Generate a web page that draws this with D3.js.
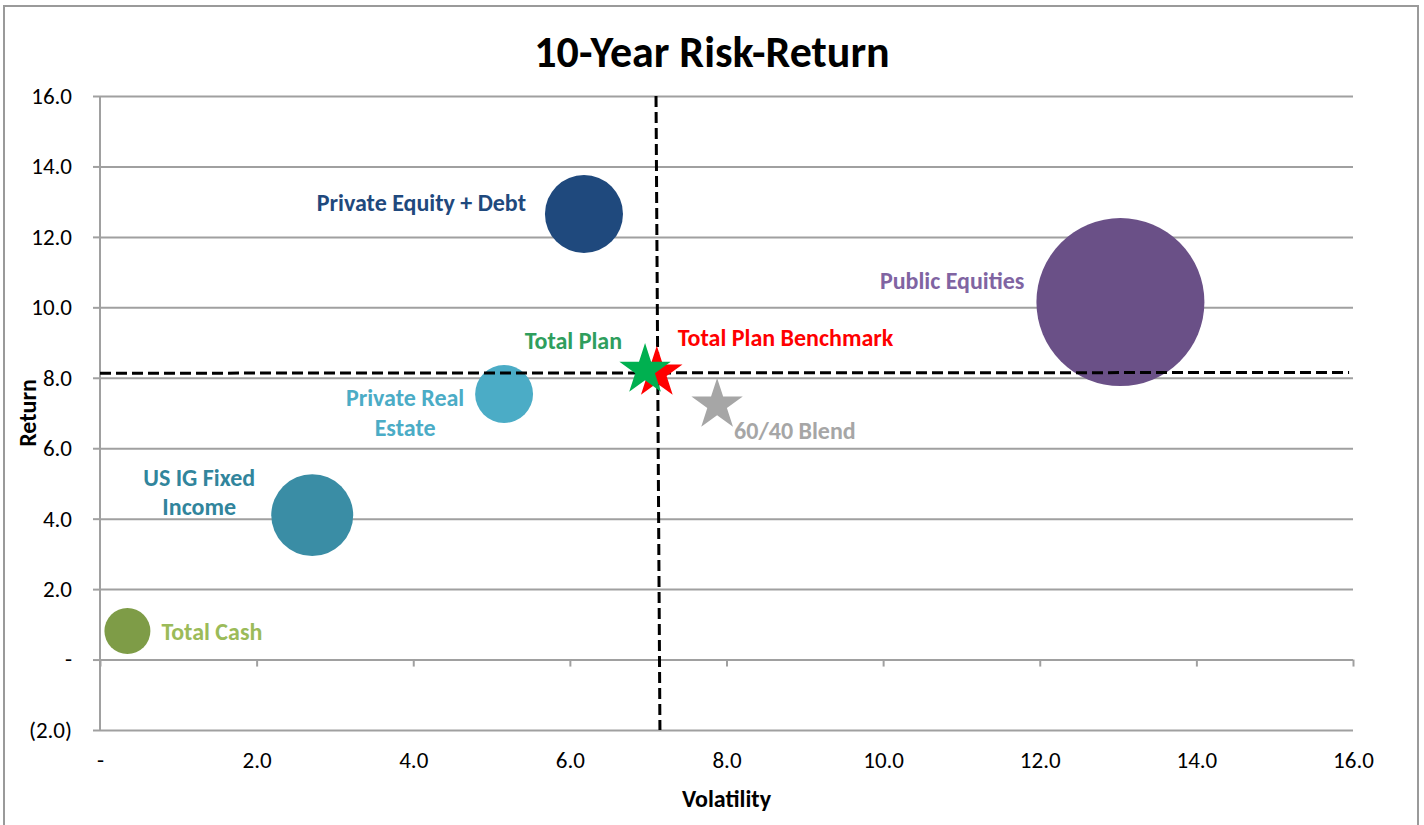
<!DOCTYPE html>
<html>
<head>
<meta charset="utf-8">
<script src="https://cdn.jsdelivr.net/npm/d3@7"></script>
<style>
  body { margin: 0; background: #fff; }
  svg text { font-family: Carlito, Lato, "Liberation Sans", sans-serif; }
</style>
</head>
<body>
<svg id="chart" width="1424" height="825"></svg>
<script>
// Asset class bubbles: volatility (x), return (y), weight drives the bubble area
const assetNames = ['Total Cash', 'US IG Fixed Income', 'Private Real Estate', 'Private Equity + Debt', 'Public Equities'];
const assetVolatility = [0.35, 2.71, 5.16, 6.18, 13.03];
const assetReturn = [0.81, 4.10, 7.54, 12.65, 10.15];
const assetWeight = [3.4, 10.8, 5.4, 9.8, 45.4];

// Portfolio level stars
const planNames = ['Total Plan', 'Total Plan Benchmark', '60/40 Blend'];
const planVolatility = [6.96, 7.11, 7.88];
const planReturn = [8.22, 8.14, 7.23];

// Benchmark cross-hair (dashed lines)
const benchVolLine = [[7.10, 16.0], [7.15, -2.0]];
const benchRetLine = [[0.0, 8.13], [15.95, 8.15]];

// Axis ticks
const xTicks = [0, 2, 4, 6, 8, 10, 12, 14, 16];
const yTicks = [-2, 0, 2, 4, 6, 8, 10, 12, 14, 16];

// colours and label layout (offsets from the mark, in px)
const assetColors = ['#7e9c47', '#3a8da5', '#4bacc6', '#1f497d', '#6a5087'];
const assetLabelColors = ['#9bbb59', '#31859c', '#4bacc6', '#1f497d', '#8064a2'];
const assetLabelLayout = [
  { anchor: 'start', dx: 34, lines: [['Total Cash', 0]] },
  { anchor: 'middle', dx: -113, lines: [['US IG Fixed', -38], ['Income', -9]] },
  { anchor: 'middle', dx: -99, lines: [['Private Real', 4], ['Estate', 34]] },
  { anchor: 'end', dx: -58, lines: [['Private Equity + Debt', -11]] },
  { anchor: 'end', dx: -96, lines: [['Public Equities', -22]] }
];
const planColors = ['#00b050', '#ff0000', '#a6a6a6'];
const planLabelColors = ['#2f9e5d', '#ff0000', '#a6a6a6'];
const planLabelLayout = [
  { anchor: 'end', dx: -23, dy: -30 },
  { anchor: 'start', dx: 21, dy: -35 },
  { anchor: 'start', dx: 17, dy: 26 }
];

const svg = d3.select('#chart');
const LABEL_SIZE = '24px';
const TICK_SIZE = '23px';

const x = d3.scaleLinear().domain([0, 16]).range([100, 1353]);
const y = d3.scaleLinear().domain([-2, 16]).range([730, 96]);
const r = d3.scaleSqrt().domain([0, 45.4]).range([0, 84]);

const fmt = d3.format('.1f');
function tickFmt(v) {
  if (v === 0) return '-';
  if (v < 0) return '(' + fmt(-v) + ')';
  return fmt(v);
}

// outer chart frame
svg.append('rect')
  .attr('x', 4).attr('y', 6).attr('width', 1414).attr('height', 830)
  .attr('fill', '#fff').attr('stroke', '#9a9a9a').attr('stroke-width', 2);

// title
svg.append('text')
  .attr('x', 712).attr('y', 67)
  .attr('text-anchor', 'middle')
  .style('font-size', '44px').style('font-weight', 'bold')
  .text('10-Year Risk-Return');

// horizontal gridlines
const yAxis = d3.axisLeft(y).tickValues(yTicks).tickFormat(tickFmt)
  .tickSize(-(x(16) - x(0))).tickPadding(28);
const gy = svg.append('g').attr('transform', `translate(${x(0)},0)`).call(yAxis);
gy.select('.domain').remove();
gy.selectAll('.tick line').attr('stroke', '#a0a0a0').attr('stroke-width', 2);
gy.selectAll('.tick text').style('font-size', TICK_SIZE).attr('fill', '#000');
// short ticks left of the axis
gy.selectAll('.tick').append('line')
  .attr('x1', -7).attr('x2', 0).attr('stroke', '#a0a0a0').attr('stroke-width', 2);

// vertical axis line
svg.append('line')
  .attr('x1', x(0)).attr('x2', x(0)).attr('y1', y(16)).attr('y2', y(-2))
  .attr('stroke', '#a0a0a0').attr('stroke-width', 2);

// x axis: ticks hang off the zero line, labels sit below the plot
const xAxis = d3.axisBottom(x).tickValues(xTicks).tickFormat(tickFmt).tickSize(7);
const gx = svg.append('g').attr('transform', `translate(0,${y(0)})`).call(xAxis);
gx.select('.domain').remove();
gx.selectAll('.tick line').attr('stroke', '#a0a0a0').attr('stroke-width', 2);
gx.selectAll('.tick text')
  .attr('y', y(-2) - y(0) + 30).attr('dy', null)
  .attr('dominant-baseline', 'central')
  .style('font-size', TICK_SIZE).attr('fill', '#000');

// axis titles
svg.append('text')
  .attr('transform', `translate(27,${(y(16) + y(-2)) / 2}) rotate(-90)`)
  .attr('text-anchor', 'middle').attr('dominant-baseline', 'central')
  .style('font-size', LABEL_SIZE).style('font-weight', 'bold')
  .text('Return');
svg.append('text')
  .attr('x', (x(0) + x(16)) / 2).attr('y', 798)
  .attr('text-anchor', 'middle').attr('dominant-baseline', 'central')
  .style('font-size', LABEL_SIZE).style('font-weight', 'bold')
  .text('Volatility');

// bubbles
const assets = assetNames.map((name, i) => ({
  name, vol: assetVolatility[i], ret: assetReturn[i], w: assetWeight[i],
  color: assetColors[i], labelColor: assetLabelColors[i], layout: assetLabelLayout[i]
}));

svg.append('g').selectAll('circle')
  .data(assets).join('circle')
  .attr('cx', d => x(d.vol)).attr('cy', d => y(d.ret))
  .attr('r', d => r(d.w))
  .attr('fill', d => d.color);

// dashed benchmark lines
const line = d3.line().x(d => x(d[0])).y(d => y(d[1]));
[benchRetLine, benchVolLine].forEach(pts => {
  svg.append('path')
    .attr('d', line(pts))
    .attr('fill', 'none').attr('stroke', '#000')
    .attr('stroke-width', 3).attr('stroke-dasharray', '11,5');
});

// stars
const plans = planNames.map((name, i) => ({
  name, vol: planVolatility[i], ret: planReturn[i],
  color: planColors[i], labelColor: planLabelColors[i], layout: planLabelLayout[i]
}));
const star = d3.symbol().type(d3.symbolStar).size(818);
svg.append('g').selectAll('path')
  .data(plans.slice().reverse()).join('path')
  .attr('transform', d => `translate(${x(d.vol)},${y(d.ret)})`)
  .attr('d', star)
  .attr('fill', d => d.color);

// asset labels
assets.forEach(d => {
  const t = svg.append('text')
    .attr('text-anchor', d.layout.anchor)
    .attr('fill', d.labelColor)
    .style('font-size', LABEL_SIZE).style('font-weight', 'bold');
  d.layout.lines.forEach(([txt, dy]) => {
    t.append('tspan')
      .attr('x', x(d.vol) + d.layout.dx)
      .attr('y', y(d.ret) + dy)
      .attr('dominant-baseline', 'central')
      .text(txt);
  });
});

// plan labels
svg.append('g').selectAll('text')
  .data(plans).join('text')
  .attr('x', d => x(d.vol) + d.layout.dx)
  .attr('y', d => y(d.ret) + d.layout.dy)
  .attr('dominant-baseline', 'central')
  .attr('text-anchor', d => d.layout.anchor)
  .attr('fill', d => d.labelColor)
  .style('font-size', LABEL_SIZE).style('font-weight', 'bold')
  .text(d => d.name);
</script>
</body>
</html>
